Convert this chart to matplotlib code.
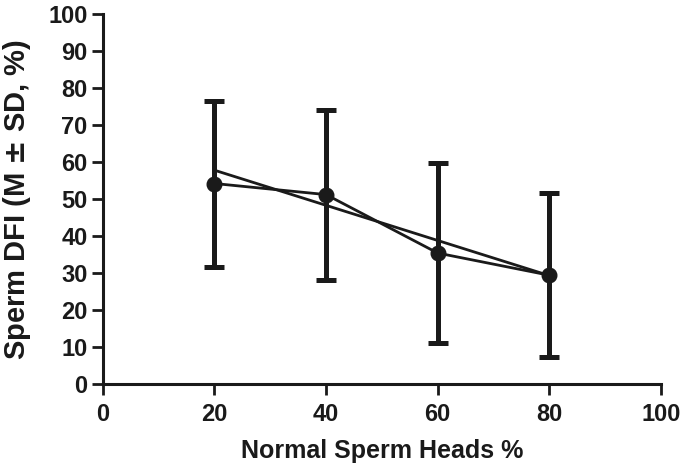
import numpy as np
import matplotlib.pyplot as plt

plt.rcParams['font.family'] = ['Liberation Sans', 'DejaVu Sans']
plt.rcParams['font.weight'] = 'bold'

# data
normal_heads = np.array([20, 40, 60, 80])
dfi_mean = np.array([54.2, 51.2, 35.4, 29.4])
dfi_upper = np.array([76.6, 74.2, 59.7, 51.6])
dfi_lower = np.array([31.5, 28.0, 11.0, 7.2])
fit_x = np.array([20, 80])
fit_y = np.array([57.8, 29.3])

col = '#1a1a1a'

fig = plt.figure(figsize=(6.85, 4.7), dpi=100)
ax = fig.add_axes([0.150, 0.183, 0.815, 0.787])

yerr = np.vstack([dfi_mean - dfi_lower, dfi_upper - dfi_mean])
ax.errorbar(normal_heads, dfi_mean, yerr=yerr, fmt='o-', color=col,
            ms=10.5, lw=2, elinewidth=3.6, capsize=7.5, capthick=3.6, zorder=3)
ax.plot(fit_x, fit_y, color=col, lw=2, zorder=2)

ax.set_xlim(0, 100)
ax.set_ylim(0, 100)
ax.set_xticks(np.arange(0, 101, 20))
ax.set_yticks(np.arange(0, 101, 10))
ax.spines['top'].set_visible(False)
ax.spines['right'].set_visible(False)
for s in ['left', 'bottom']:
    ax.spines[s].set_linewidth(2.2)
    ax.spines[s].set_color(col)
ax.tick_params(width=2, length=8, color=col, labelsize=17, labelcolor=col)
ax.tick_params(axis='x', pad=6)
ax.tick_params(axis='y', pad=3)

ax.set_xlabel('Normal Sperm Heads %', fontsize=18, fontweight='bold', color=col)
ax.set_ylabel('Sperm DFI (M $\\pm$ SD, %)', fontsize=21, fontweight='bold', color=col)
ax.xaxis.set_label_coords(0.5, -0.148)
ax.yaxis.set_label_coords(-0.125, 0.5)

fig.savefig('out.png', dpi=100)
